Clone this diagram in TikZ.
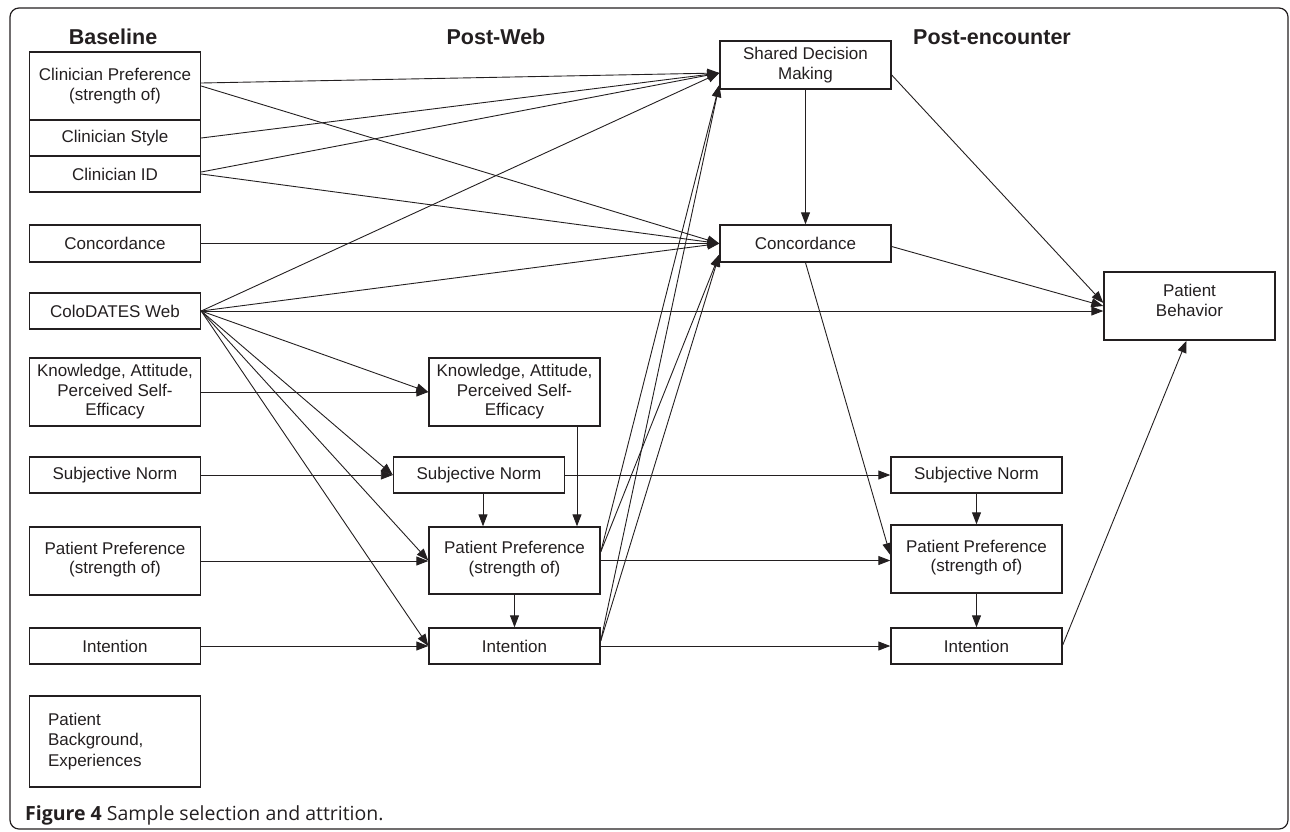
\documentclass[tikz,border=0pt]{standalone}
\usepackage{fontspec}
\setmainfont{Liberation Sans}
\newfontfamily\capfont{Open Sans}
\usetikzlibrary{arrows.meta,calc}
\definecolor{ink}{HTML}{231F20}
\begin{document}
\begin{tikzpicture}[x=1pt,y=-1pt,
  box/.style={draw=ink, line width=1.4pt, inner sep=0pt, minimum width=171pt, align=center,
              font=\fontsize{17}{19.5}\selectfont, text=ink},
  conn/.style={draw=ink, line width=0.9pt, -{Triangle[length=12pt,width=9pt]}},
  head/.style={font=\bfseries\fontsize{21.5}{24}\selectfont, text=ink, anchor=base, inner sep=0pt}]
\useasboundingbox (0,0) rectangle (1290,831);
\draw[ink, line width=1.2pt, rounded corners=9pt] (10,8) rectangle (1288,829);

% headers
\node[head] (h1) at (113,44) {Baseline};
\node[head] (h2) at (496,44) {Post-Web};
\node[head] (h3) at (992,44) {Post-encounter};

% baseline column
\node[box, minimum height=68pt] (bcp) at (115,86) {Clinician Preference\\(strength of)};
\node[box, minimum height=36pt] (bcs) at (115,138) {Clinician Style};
\node[box, minimum height=36pt] (bci) at (115,174) {Clinician ID};
\node[box, minimum height=37pt] (bcon) at (115,243.5) {Concordance};
\node[box, minimum height=36pt] (bweb) at (115,311) {ColoDATES Web};
\node[box, minimum height=68pt] (bkn) at (115,392) {Knowledge, Attitude,\\Perceived Self-\\Efficacy};
\node[box, minimum height=36pt] (bsn) at (115,475) {Subjective Norm};
\node[box, minimum height=68pt] (bpp) at (115,561) {Patient Preference\\(strength of)\\[-13pt]};
\node[box, minimum height=36pt] (bint) at (115,646) {Intention};
\node[box, minimum height=91pt, text width=134pt, align=left,
      font=\fontsize{17}{20.5}\selectfont] (bbg) at (115,741.5) {Patient\\Background,\\Experiences\\[-16pt]};

% post-web column
\node[box, minimum height=68pt] (pkn) at (514.5,392) {Knowledge, Attitude,\\Perceived Self-\\Efficacy};
\node[box, minimum height=36pt] (psn) at (479,475) {Subjective Norm};
\node[box, minimum height=67pt] (ppp) at (514.5,560.5) {Patient Preference\\(strength of)\\[-13pt]};
\node[box, minimum height=36pt] (pint) at (514.5,646) {Intention};

% post-encounter column
\node[box, minimum height=48pt] (sdm) at (805.5,65) {Shared Decision\\Making};
\node[box, minimum height=37pt] (econ) at (805.5,243.5) {Concordance};
\node[box, minimum height=36pt] (esn) at (976.5,475) {Subjective Norm};
\node[box, minimum height=68pt] (epp) at (976.5,559) {Patient Preference\\(strength of)\\[-13pt]};
\node[box, minimum height=36pt] (eint) at (976.5,646) {Intention};
\node[box, minimum height=68pt] (pb) at (1189.5,306) {Patient\\Behavior\\[-8pt]};

% connectors from baseline
\draw[conn] ([yshift=3pt]bcp.east) -- ([yshift=-8pt]sdm.west);
\draw[conn] (bcp.east) -- (econ.west);
\draw[conn] (bcs.east) -- ([yshift=-8pt]sdm.west);
\draw[conn] ([yshift=2pt]bci.east) -- ([yshift=-8pt]sdm.west);
\draw[conn] (bci.east) -- (econ.west);
\draw[conn] (bcon.east) -- (econ.west);
\draw[conn] (bweb.east) -- ([yshift=-8pt]sdm.west);
\draw[conn] (bweb.east) -- (econ.west);
\draw[conn] (bweb.east) -- (bweb.east -| pb.west);
\draw[conn] (bweb.east) -- (pkn.west);
\draw[conn] (bweb.east) -- (psn.west);
\draw[conn] (bweb.east) -- (ppp.west);
\draw[conn] (bweb.east) -- (pint.west);
\draw[conn] (bkn.east) -- (pkn.west);
\draw[conn] (bsn.east) -- (psn.west);
\draw[conn] (bpp.east) -- (bpp.east -| ppp.west);
\draw[conn] (bint.east) -- (pint.west);

% post-web internal
\draw[conn] ([xshift=62.5pt]pkn.south) -- ([xshift=62.5pt]pkn.south |- ppp.north);
\draw[conn] ([xshift=4pt]psn.south) -- ([xshift=4pt]psn.south |- ppp.north);
\draw[conn] (ppp.south) -- (pint.north);

% post-web to post-encounter
\draw[conn] (psn.east) -- (esn.west);
\draw[conn] (ppp.east) -- (ppp.east -| epp.west);
\draw[conn] (pint.east) -- (eint.west);
\draw[conn] ([yshift=8.5pt]ppp.east) -- ([yshift=-20pt]sdm.west);
\draw[conn] ([yshift=8.5pt]ppp.east) -- ([yshift=-11pt]econ.west);
\draw[conn] ([yshift=5pt]pint.east) -- ([yshift=-20pt]sdm.west);
\draw[conn] ([yshift=5pt]pint.east) -- ([yshift=-11pt]econ.west);

% post-encounter
\draw[conn] (sdm.south) -- (econ.north);
\draw[conn] ([yshift=-10pt]sdm.east) -- ([yshift=3pt]pb.west);
\draw[conn] ([yshift=-3pt]econ.east) -- (pb.west);
\draw[conn] (econ.south) -- ([yshift=4pt]epp.west);
\draw[conn] (esn.south) -- (epp.north);
\draw[conn] (epp.south) -- (eint.north);
\draw[conn] ([yshift=1pt]eint.east) -- ([xshift=-3pt]pb.south);

% caption
\node[anchor=base west, inner sep=0pt, text=ink, font=\capfont\fontsize{19.5}{22}\selectfont] (cap) at (25,820)
  {\textbf{Figure 4} Sample selection and attrition.};
\end{tikzpicture}
\end{document}
